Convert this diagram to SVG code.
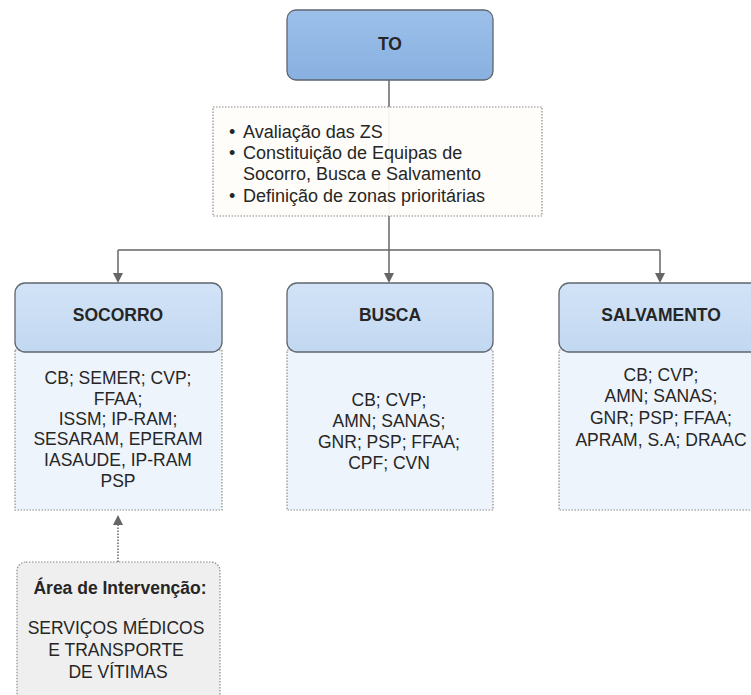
<svg xmlns="http://www.w3.org/2000/svg" width="751" height="695" viewBox="0 0 751 695">
<defs>
<marker id="arr" markerWidth="10" markerHeight="10" refX="5" refY="5" orient="auto" markerUnits="userSpaceOnUse">
<path d="M0,0 L10,5 L0,10 Z" fill="#666"/>
</marker>
<linearGradient id="gTO" x1="0" y1="0" x2="0" y2="1"><stop offset="0" stop-color="#9cc0ea"/><stop offset="1" stop-color="#88b0e0"/></linearGradient>
<linearGradient id="gH" x1="0" y1="0" x2="0" y2="1"><stop offset="0" stop-color="#d2e3f7"/><stop offset="1" stop-color="#c2d8f1"/></linearGradient>
</defs>
<style>
text{font-family:"Liberation Sans",Arial,sans-serif;fill:#262626;}
.hdr{stroke:#5e6670;stroke-width:1.3;fill:url(#gH);}
.cnt{stroke:#8a8a8a;stroke-width:1.2;stroke-dasharray:1.5 1.5;fill:#eef4fb;}
.t{font-size:17.5px;text-anchor:middle;}
.b{font-size:17.5px;font-weight:bold;text-anchor:middle;}
.conn{stroke:#666;stroke-width:1.5;fill:none;}
</style>
<g id="connectors">
<path class="conn" d="M389,80 V250"/>
<path class="conn" d="M118,250 H660"/>
<path class="conn" d="M118,250 V278" marker-end="url(#arr)"/>
<path class="conn" d="M389,250 V278" marker-end="url(#arr)"/>
<path class="conn" d="M660,250 V278" marker-end="url(#arr)"/>
<path class="conn" d="M118,562 V520" stroke-dasharray="1.5 1.5" marker-end="url(#arr)"/>
</g>
<g id="TO">
<rect x="287" y="10" width="206" height="70" rx="9" fill="url(#gTO)" stroke="#5e6670" stroke-width="1.3"/>
<text class="b" x="390" y="50" fill="#1c2a3a">TO</text>
</g>
<g id="tarefas">
<rect x="213" y="107" width="329" height="109" fill="#fffdf9" fill-opacity="0.93" stroke="#8a8a8a" stroke-width="1.2" stroke-dasharray="1.5 1.5"/>
<g font-size="18">
<text x="229" y="138">•</text><text x="243" y="138">Avaliação das ZS</text>
<text x="229" y="159">•</text><text x="243" y="159">Constituição de Equipas de</text>
<text x="243" y="180">Socorro, Busca e Salvamento</text>
<text x="229" y="202">•</text><text x="243" y="202">Definição de zonas prioritárias</text>
</g>
</g>
<g id="socorro">
<rect class="cnt" x="15" y="350" width="207" height="160"/>
<rect class="hdr" x="15" y="283" width="207" height="69" rx="10"/>
<text class="b" x="118" y="321">SOCORRO</text>
<text class="t" x="118" y="384">CB; SEMER; CVP;</text>
<text class="t" x="118" y="405">FFAA;</text>
<text class="t" x="118" y="425">ISSM; IP-RAM;</text>
<text class="t" x="118" y="445">SESARAM, EPERAM</text>
<text class="t" x="118" y="466">IASAUDE, IP-RAM</text>
<text class="t" x="118" y="487">PSP</text>
</g>
<g id="busca">
<rect class="cnt" x="287" y="350" width="206" height="160"/>
<rect class="hdr" x="287" y="283" width="206" height="69" rx="10"/>
<text class="b" x="390" y="321">BUSCA</text>
<text class="t" x="389" y="406">CB; CVP;</text>
<text class="t" x="389" y="427">AMN; SANAS;</text>
<text class="t" x="389" y="448">GNR; PSP; FFAA;</text>
<text class="t" x="389" y="469">CPF; CVN</text>
</g>
<g id="salvamento">
<rect class="cnt" x="559" y="350" width="206" height="160"/>
<rect class="hdr" x="559" y="283" width="206" height="69" rx="10"/>
<text class="b" x="661" y="321">SALVAMENTO</text>
<text class="t" x="661" y="381">CB; CVP;</text>
<text class="t" x="661" y="402">AMN; SANAS;</text>
<text class="t" x="661" y="424">GNR; PSP; FFAA;</text>
<text class="t" x="661" y="446">APRAM, S.A; DRAAC</text>
</g>
<g id="area">
<rect x="17" y="562" width="203" height="145" rx="9" fill="#efefef" stroke="#8a8a8a" stroke-width="1.2" stroke-dasharray="1.5 1.5"/>
<text class="b" x="120" y="594" font-size="19">Área de Intervenção:</text>
<text class="t" x="116" y="634">SERVIÇOS MÉDICOS</text>
<text class="t" x="116" y="656">E TRANSPORTE</text>
<text class="t" x="118" y="678">DE VÍTIMAS</text>
</g>
</svg>
